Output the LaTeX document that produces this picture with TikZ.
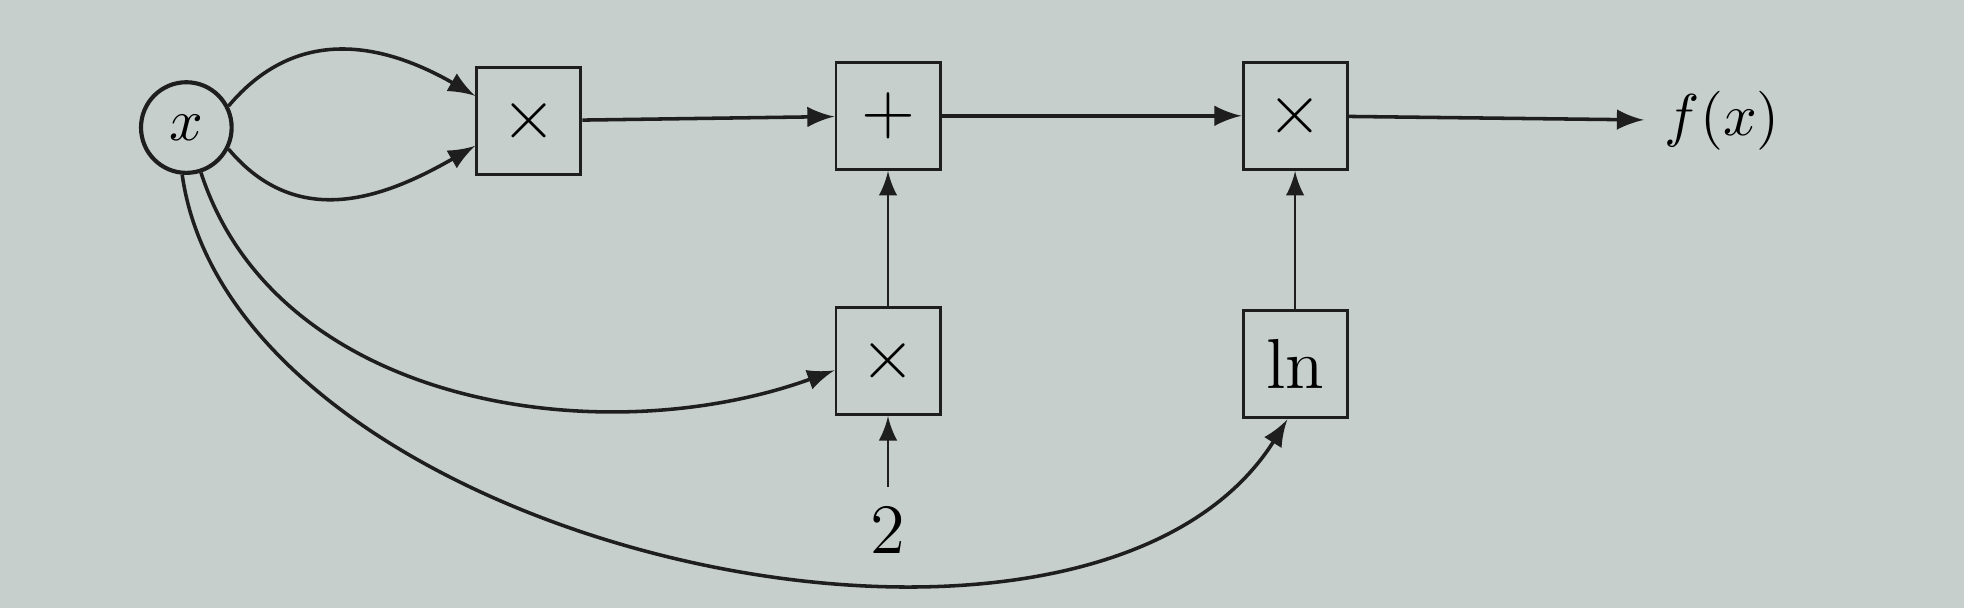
\documentclass[tikz,border=0pt]{standalone}
\usepackage{amsmath}
\usepackage{tikz}
\definecolor{paper}{HTML}{C6CFCC}
\definecolor{ink}{HTML}{1E1E1E}

\begin{document}
\begin{tikzpicture}[>=latex,
    op/.style={draw=ink,line width=0.5pt,minimum width=0.62cm,minimum height=0.64cm,inner sep=0pt,font=\large},
    var/.style={draw=ink,line width=0.7pt,circle,minimum size=0.54cm,inner sep=0pt},
    edge/.style={->,draw=ink,line width=0.6pt},
    thinedge/.style={->,draw=ink,line width=0.45pt}]
        \fill[paper] (0,0) rectangle (11.7,-3.62);
        \useasboundingbox (0,0) rectangle (11.7,-3.62);

        \path
        (1.11,-0.76) node[var] (x) {$x$}
        (3.15,-0.72) node[op] (mul1) {$\times$}
        (5.29,-0.69) node[op] (add) {$+$}
        (7.715,-0.69) node[op] (mul3) {$\times$}
        (10.26,-0.72) node (f) {$f(x)$}
        ;

        \path
        (5.29,-2.15) node[op] (mul2) {$\times$}
        (7.715,-2.17) node[op] (ln) {$\ln$}
        (5.29,-3.16) node[font=\large] (two) {$2$}
        ;

        % x squared
        \draw[edge] (x.27) to[out=50,in=150,looseness=1.1] (mul1.155);
        \draw[edge] (x.-27) to[out=-50,in=210,looseness=1.1] (mul1.205);
        \draw[edge] (mul1) -- (add);
        \draw[edge] (add) -- (mul3);
        \draw[edge] (mul3) -- (f);

        % 2x and ln x
        \draw[edge] (x.-72) to[out=-72,in=200,looseness=0.95] (mul2.190);
        \draw[edge] (x.-95) to[out=-82,in=238,looseness=0.85] (ln.262);
        \draw[thinedge] (two) -- (mul2);
        \draw[thinedge] (mul2) -- (add);
        \draw[thinedge] (ln) -- (mul3);
      \end{tikzpicture}
\end{document}
